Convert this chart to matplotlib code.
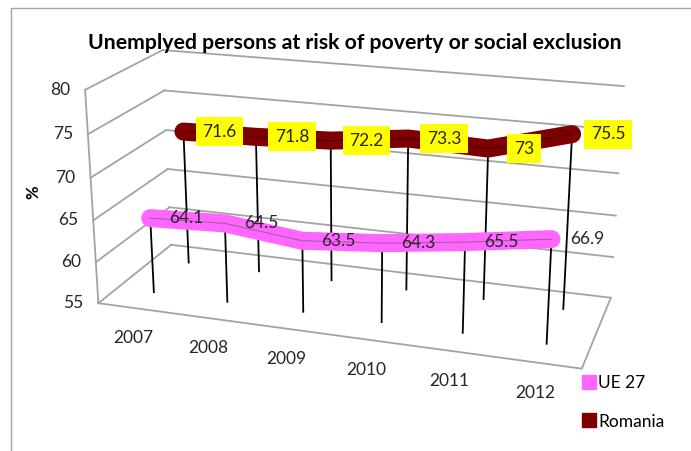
import numpy as np
import matplotlib
matplotlib.use('Agg')
import matplotlib.pyplot as plt
from matplotlib.patches import Rectangle
from matplotlib.lines import Line2D

# data
years = ['2007', '2008', '2009', '2010', '2011', '2012']
ue27 = [64.1, 64.5, 63.5, 64.3, 65.5, 66.9]
romania = [71.6, 71.8, 72.2, 73.3, 73.0, 75.5]
series_names = ['UE 27', 'Romania']
zticks = [55, 60, 65, 70, 75, 80]
title = 'Unemplyed persons at risk of poverty or social exclusion'

pink = '#FF66FF'
maroon = '#7F0000'
grid_col = '#A3A3A3'
W, H = 691, 451

plt.rcParams['font.family'] = ['Lato', 'DejaVu Sans']

fig = plt.figure(figsize=(W / 100, H / 100), dpi=100)
# chart border (only left and top edges fall inside the picture)
fig.patches.append(Rectangle((11 / W, -0.1), 1.2, 1.1 - 8 / H, transform=fig.transFigure,
                             fill=False, ec='#A6A6A6', lw=1.0))

ax = fig.add_axes([0.006, 0.05, 1.0, 1.0], projection='3d', computed_zorder=False)
ax.set_proj_type('persp', focal_length=0.6)
ax.view_init(elev=19, azim=-72)
ax.set_box_aspect((507, 180, 230), zoom=1.23)
ax.set_xlim(0, 6)
ax.set_ylim(0, 2)
ax.set_zlim(55, 80)
ax.set_axis_off()

xs = [i + 0.5 for i in range(len(years))]
zmin = zticks[0]
y_ue, y_ro = 0.5, 1.5
kw = dict(clip_on=False)

# left wall and back wall gridlines
for z in zticks:
    ax.plot([0, 0], [0, 2], [z, z], color=grid_col, lw=1.3, zorder=1, **kw)
    ax.plot([0, 6], [2, 2], [z, z], color=grid_col, lw=1.3, zorder=1, **kw)
ax.plot([0, 0], [0, 0], [zticks[0], zticks[-1]], color=grid_col, lw=1.3, zorder=1, **kw)
# floor outline
ax.plot([0, 6, 6], [0, 0, 2], [zmin, zmin, zmin], color=grid_col, lw=1.3, zorder=1, **kw)

# Romania (back row)
for x, v in zip(xs, romania):
    ax.plot([x, x], [y_ro, y_ro], [zmin, v], color='black', lw=1.3, zorder=2, **kw)
ax.plot(xs, [y_ro] * len(xs), romania, color=maroon, lw=13,
        solid_capstyle='round', solid_joinstyle='round', zorder=3, **kw)
ax.plot(xs, [y_ro] * len(xs), romania, color='#4A0000', lw=0.8, zorder=3, **kw)

# UE 27 (front row)
for x, v in zip(xs, ue27):
    ax.plot([x, x], [y_ue, y_ue], [zmin, v], color='black', lw=1.3, zorder=5, **kw)
ax.plot(xs, [y_ue] * len(xs), ue27, color=pink, lw=13,
        solid_capstyle='round', solid_joinstyle='round', zorder=6, **kw)
ax.plot(xs, [y_ue] * len(xs), ue27, color='#A85AA8', lw=0.8, zorder=6, **kw)

# texts are placed in 2D at the projected 3D positions
fig.canvas.draw()
M = ax.get_proj()


def to_fig(x, y, z, dx=0, dy=0):
    p = M @ np.array([x, y, z, 1.0])
    disp = ax.transData.transform((p[0] / p[3], p[1] / p[3]))
    return fig.transFigure.inverted().transform((disp[0] + dx, disp[1] + dy))


for z in zticks:
    fx, fy = to_fig(0, 0, z, dx=-15)
    fig.text(fx, fy, str(z), ha='right', va='center', fontsize=12.5, color='#262626')
for x, yr in zip(xs, years):
    fx, fy = to_fig(x, 0, zmin, dx=-2, dy=-30)
    fig.text(fx, fy, yr, ha='center', va='center', fontsize=12.5, color='#262626')

for x, v in zip(xs, romania):
    fx, fy = to_fig(x, y_ro, v, dx=36)
    fig.text(fx, fy, f'{v:g}', ha='center', va='center', fontsize=12.5, color='#262626',
             bbox=dict(boxstyle='square,pad=0.38', fc='#FFFF00', ec='none'))
for x, v in zip(xs, ue27):
    fx, fy = to_fig(x, y_ue, v, dx=36)
    fig.text(fx, fy, f'{v:g}', ha='center', va='center', fontsize=12.5, color='#262626')

fig.text(0.513, 0.905, title, ha='center', va='center', fontweight='bold', fontsize=15.3)
fig.text(33 / W, 1 - 192 / H, '%', rotation=90, ha='center', va='center',
         fontweight='bold', fontsize=12)

handles = [Line2D([], [], marker='s', ls='none', ms=10, mfc=c, mec=c)
           for c in (pink, maroon)]
fig.legend(handles, series_names, loc='upper left', bbox_to_anchor=(573 / W, 1 - 368 / H),
           frameon=False, fontsize=12.5, handletextpad=0.05, labelspacing=1.3,
           handlelength=1.0, borderaxespad=0)

fig.savefig('out.png', dpi=100)
